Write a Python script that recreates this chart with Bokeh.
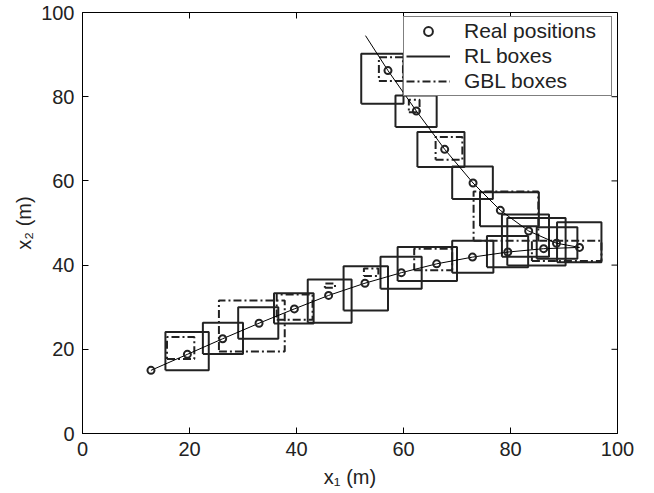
import math
from bokeh.plotting import figure
from bokeh.models import Range1d, FixedTicker, Legend, LegendItem
from bokeh.embed import file_html
from bokeh.resources import INLINE

# ---- data ----
# real positions, trajectory A (lower-left to right) and B (from the top)
real_x_a = [12.8, 19.6, 26.2, 33.0, 39.6, 46.0, 52.8, 59.6, 66.2, 72.9, 79.5, 86.2, 92.9]
real_y_a = [15.0, 18.8, 22.5, 26.2, 29.6, 32.8, 35.7, 38.2, 40.3, 41.9, 43.1, 43.9, 44.2]
real_x_b = [57.1, 62.4, 67.7, 73.0, 78.1, 83.4, 88.6]
real_y_b = [86.2, 76.6, 67.5, 59.5, 53.0, 48.1, 45.2]

# trajectory polylines
track_x_a = real_x_a
track_y_a = real_y_a
track_x_b = [52.9, 57.1, 62.4, 67.7, 73.0, 78.1, 83.4, 88.6, 92.9]
track_y_b = [94.5, 86.2, 76.6, 67.5, 59.5, 53.0, 48.1, 45.2, 44.2]

# RL boxes (solid): left, right, bottom, top
rl_x0 = [15.5, 22.5, 29.1, 35.8, 42.1, 48.8, 55.7, 58.9, 69.1, 75.6, 84.9, 88.7,
         52.1, 58.5, 62.6, 69.1, 74.3, 78.4, 79.4]
rl_x1 = [23.6, 30.0, 36.6, 43.2, 50.3, 57.1, 63.4, 70.0, 76.8, 83.3, 92.5, 97.0,
         60.0, 66.2, 71.4, 76.7, 85.3, 87.2, 90.3]
rl_y0 = [15.0, 18.9, 22.5, 26.1, 26.3, 29.2, 34.4, 36.2, 38.2, 39.5, 41.5, 40.7,
         78.3, 72.8, 63.3, 55.7, 49.2, 42.0, 39.9]
rl_y1 = [24.1, 26.3, 30.0, 33.3, 36.6, 39.7, 42.0, 44.3, 45.8, 46.9, 49.0, 50.2,
         90.2, 80.3, 71.6, 63.4, 57.3, 52.0, 51.2]

# GBL boxes (dash-dot): left, right, bottom, top
gbl_x0 = [15.8, 25.5, 36.3, 45.3, 52.6, 62.0, 73.1, 84.0, 55.4, 61.0, 66.0]
gbl_x1 = [20.9, 37.8, 43.0, 47.2, 55.3, 69.1, 85.2, 97.0, 59.9, 63.0, 71.0]
gbl_y0 = [17.7, 19.5, 27.0, 34.6, 37.4, 38.8, 45.8, 41.0, 83.7, 76.3, 65.0]
gbl_y1 = [22.9, 31.6, 33.0, 35.6, 39.2, 43.9, 57.5, 45.8, 89.4, 79.3, 70.4]

axis_ticks = [0, 20, 40, 60, 80, 100]
axis_min, axis_max = 0, 100


def outlines(x0, x1, y0, y1):
    xs = [[a, b, b, a, a] for a, b in zip(x0, x1)]
    ys = [[c, c, d, d, c] for c, d in zip(y0, y1)]
    return xs, ys


FONT = "Liberation Sans"
TICK = 6

p = figure(width=654, height=493, x_range=Range1d(axis_min, axis_max),
           y_range=Range1d(axis_min, axis_max),
           output_backend="svg", toolbar_location=None,
           min_border_left=82, min_border_right=37, min_border_top=12, min_border_bottom=60)
p.grid.visible = False
p.outline_line_color = "black"
p.outline_line_width = 1
p.background_fill_color = "white"
p.border_fill_color = "white"

for ax in (p.xaxis[0], p.yaxis[0]):
    ax.ticker = FixedTicker(ticks=axis_ticks)
    ax.major_tick_in = TICK
    ax.major_tick_out = 0
    ax.minor_tick_in = 0
    ax.minor_tick_out = 0
    ax.axis_line_color = "black"
    ax.major_tick_line_color = "black"
    ax.major_label_text_font = FONT
    ax.major_label_text_font_size = "20px"
    ax.major_label_text_color = "#222222"
    ax.axis_label_text_font = FONT
    ax.axis_label_text_font_size = "20px"
    ax.axis_label_text_font_style = "normal"
    ax.axis_label_text_color = "#222222"

p.xaxis[0].axis_label = "x\u2081 (m)"
p.yaxis[0].axis_label = "x\u2082 (m)"
p.xaxis[0].major_label_standoff = 8
p.xaxis[0].axis_label_standoff = 7
p.yaxis[0].major_label_standoff = 8
p.yaxis[0].axis_label_standoff = 3

# mirrored inward ticks on the top and right edges of the box
p.ray(x=axis_ticks, y=[axis_max] * len(axis_ticks), length=TICK, length_units="screen",
      angle=-math.pi / 2, line_color="black", line_width=1)
p.ray(x=[axis_max] * len(axis_ticks), y=axis_ticks, length=TICK, length_units="screen",
      angle=math.pi, line_color="black", line_width=1)

rx, ry = outlines(rl_x0, rl_x1, rl_y0, rl_y1)
gx, gy = outlines(gbl_x0, gbl_x1, gbl_y0, gbl_y1)

gbl = p.multi_line(gx, gy, line_color="#222222", line_width=2, line_dash="8 3 2 3")
rl = p.multi_line(rx, ry, line_color="#222222", line_width=2)

p.line(track_x_a, track_y_a, line_color="black", line_width=1)
p.line(track_x_b, track_y_b, line_color="black", line_width=1)

pos_a = p.scatter(real_x_a, real_y_a, marker="circle", size=7, fill_color=None,
                  line_color="#222222", line_width=2)
p.scatter(real_x_b, real_y_b, marker="circle", size=7, fill_color=None,
          line_color="#222222", line_width=2)

legend = Legend(items=[LegendItem(label="Real positions", renderers=[pos_a]),
                       LegendItem(label="RL boxes", renderers=[rl]),
                       LegendItem(label="GBL boxes", renderers=[gbl])],
                location=(321, 337))
legend.label_text_font = FONT
legend.label_text_font_size = "21px"
legend.label_text_color = "#222222"
legend.border_line_color = "black"
legend.border_line_width = 1
legend.background_fill_color = "white"
legend.background_fill_alpha = 1
legend.padding = 2
legend.spacing = 1
legend.margin = 0
legend.glyph_width = 44
legend.glyph_height = 22
legend.label_height = 22
legend.label_width = 145
legend.label_standoff = 14
p.add_layout(legend)

open("out.html", "w").write(file_html(p, INLINE))
